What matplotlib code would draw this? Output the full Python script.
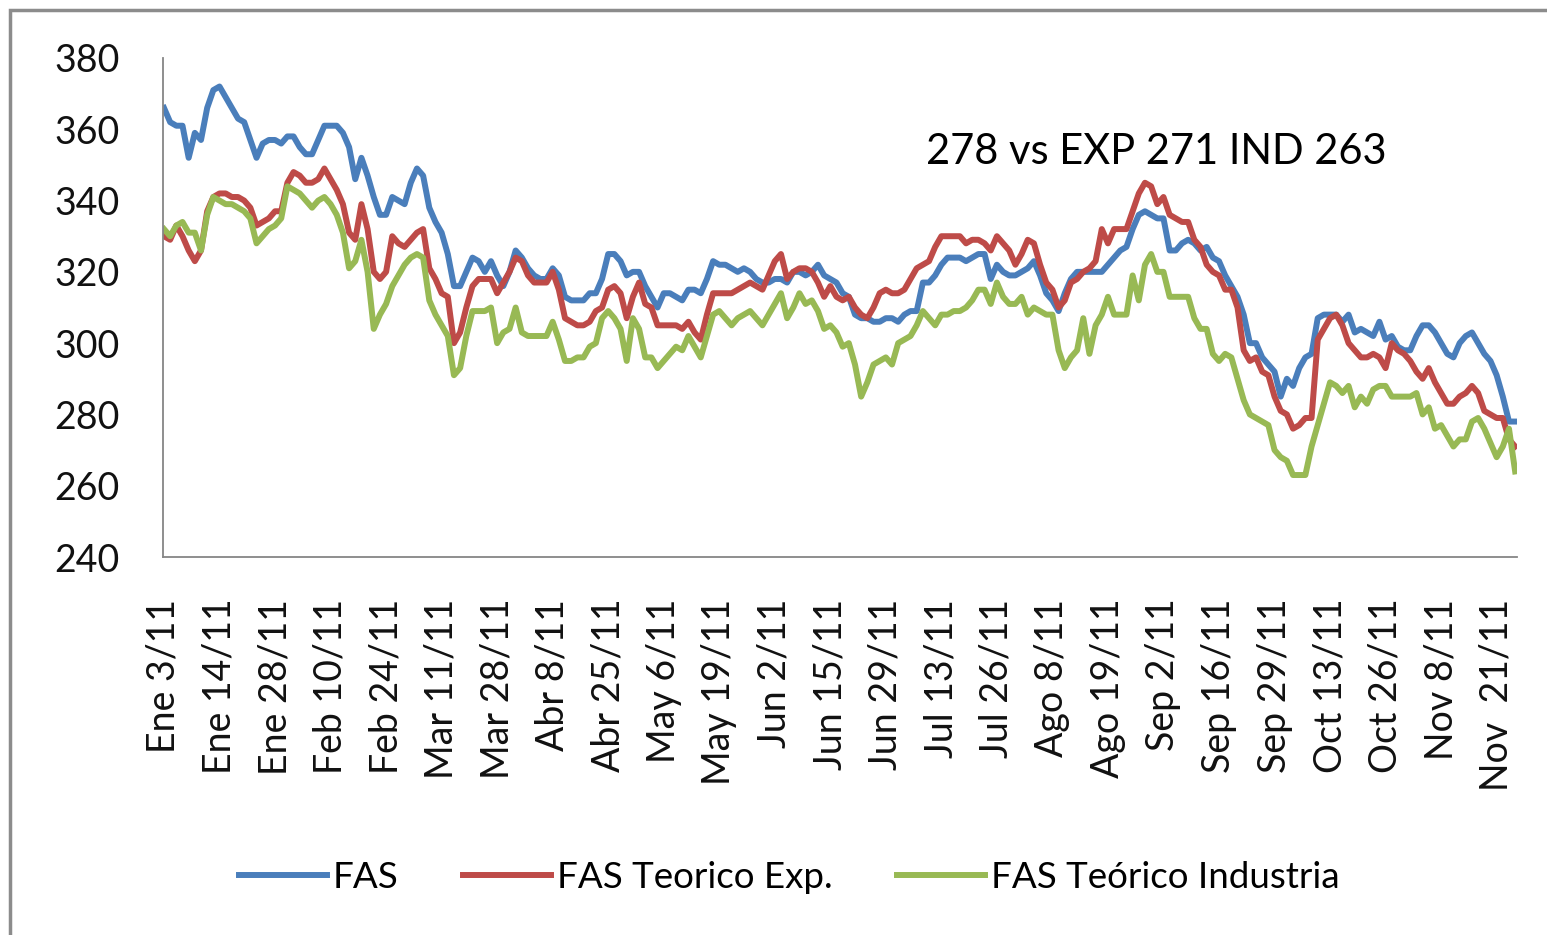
import matplotlib
matplotlib.use("Agg")
import matplotlib.pyplot as plt
from matplotlib.patches import Rectangle

plt.rcParams["font.family"] = ["Lato", "DejaVu Sans"]

# etiquetas del eje x (una cada 9 ruedas)
tick_labels = ["Ene 3/11", "Ene 14/11", "Ene 28/11", "Feb 10/11", "Feb 24/11",
               "Mar 11/11", "Mar 28/11", "Abr 8/11", "Abr 25/11", "May 6/11",
               "May 19/11", "Jun 2/11", "Jun 15/11", "Jun 29/11", "Jul 13/11",
               "Jul 26/11", "Ago 8/11", "Ago 19/11", "Sep 2/11", "Sep 16/11",
               "Sep 29/11", "Oct 13/11", "Oct 26/11", "Nov 8/11", "Nov  21/11"]
tick_step = 9

fas = [366, 362, 361, 361, 352, 359, 357, 366, 371, 372,
       369, 366, 363, 362, 357, 352, 356, 357, 357, 356,
       358, 358, 355, 353, 353, 357, 361, 361, 361, 359,
       355, 346, 352, 347, 341, 336, 336, 341, 340, 339,
       345, 349, 347, 338, 334, 331, 325, 316, 316, 320,
       324, 323, 320, 323, 319, 316, 320, 326, 324, 321,
       319, 318, 318, 321, 319, 313, 312, 312, 312, 314,
       314, 318, 325, 325, 323, 319, 320, 320, 316, 313,
       310, 314, 314, 313, 312, 315, 315, 314, 318, 323,
       322, 322, 321, 320, 321, 320, 318, 317, 317, 318,
       318, 317, 320, 320, 319, 320, 322, 319, 318, 317,
       314, 313, 308, 307, 307, 306, 306, 307, 307, 306,
       308, 309, 309, 317, 317, 319, 322, 324, 324, 324,
       323, 324, 325, 325, 318, 322, 320, 319, 319, 320,
       321, 323, 319, 314, 312, 309, 314, 318, 320, 320,
       320, 320, 320, 322, 324, 326, 327, 332, 336, 337,
       336, 335, 335, 326, 326, 328, 329, 328, 326, 327,
       324, 323, 319, 316, 313, 308, 300, 300, 296, 294,
       292, 285, 290, 288, 293, 296, 297, 307, 308, 308,
       308, 306, 308, 303, 304, 303, 302, 306, 301, 302,
       299, 298, 298, 302, 305, 305, 303, 300, 297, 296,
       300, 302, 303, 300, 297, 295, 291, 285, 278, 278]

fas_exp = [330, 329, 333, 330, 326, 323, 326, 337, 341, 342,
           342, 341, 341, 340, 338, 333, 334, 335, 337, 337,
           345, 348, 347, 345, 345, 346, 349, 346, 343, 339,
           331, 329, 339, 332, 320, 318, 320, 330, 328, 327,
           329, 331, 332, 321, 318, 314, 313, 300, 303, 310,
           316, 318, 318, 318, 314, 317, 320, 324, 323, 319,
           317, 317, 317, 320, 315, 307, 306, 305, 305, 306,
           309, 310, 315, 316, 314, 307, 313, 317, 311, 310,
           305, 305, 305, 305, 304, 306, 303, 301, 308, 314,
           314, 314, 314, 315, 316, 317, 316, 315, 319, 323,
           325, 318, 320, 321, 321, 320, 317, 313, 316, 313,
           312, 313, 310, 308, 307, 310, 314, 315, 314, 314,
           315, 318, 321, 322, 323, 327, 330, 330, 330, 330,
           328, 329, 329, 328, 326, 330, 328, 326, 322, 325,
           329, 328, 322, 317, 315, 310, 312, 317, 318, 320,
           321, 323, 332, 328, 332, 332, 332, 337, 342, 345,
           344, 339, 341, 336, 335, 334, 334, 329, 327, 322,
           320, 319, 315, 315, 310, 298, 295, 296, 292, 291,
           285, 281, 280, 276, 277, 279, 279, 301, 304, 307,
           308, 305, 300, 298, 296, 296, 297, 296, 293, 300,
           298, 297, 295, 292, 290, 293, 289, 286, 283, 283,
           285, 286, 288, 286, 281, 280, 279, 279, 273, 271]

fas_ind = [332, 330, 333, 334, 331, 331, 326, 336, 341, 340,
           339, 339, 338, 337, 335, 328, 330, 332, 333, 335,
           344, 343, 342, 340, 338, 340, 341, 339, 336, 331,
           321, 323, 329, 320, 304, 308, 311, 316, 319, 322,
           324, 325, 324, 312, 308, 305, 302, 291, 293, 302,
           309, 309, 309, 310, 300, 303, 304, 310, 303, 302,
           302, 302, 302, 306, 301, 295, 295, 296, 296, 299,
           300, 307, 309, 307, 304, 295, 307, 304, 296, 296,
           293, 295, 297, 299, 298, 302, 299, 296, 302, 308,
           309, 307, 305, 307, 308, 309, 307, 305, 308, 311,
           314, 307, 310, 314, 311, 312, 309, 304, 305, 303,
           299, 300, 294, 285, 289, 294, 295, 296, 294, 300,
           301, 302, 305, 309, 307, 305, 308, 308, 309, 309,
           310, 312, 315, 315, 311, 317, 313, 311, 311, 313,
           308, 310, 309, 308, 308, 298, 293, 296, 298, 307,
           297, 305, 308, 313, 308, 308, 308, 319, 312, 322,
           325, 320, 320, 313, 313, 313, 313, 307, 304, 304,
           297, 295, 297, 296, 290, 284, 280, 279, 278, 277,
           270, 268, 267, 263, 263, 263, 271, 277, 283, 289,
           288, 286, 288, 282, 285, 283, 287, 288, 288, 285,
           285, 285, 285, 286, 280, 282, 276, 277, 274, 271,
           273, 273, 278, 279, 276, 272, 268, 271, 276, 264]

note = "278 vs EXP 271 IND 263"

fig = plt.figure(figsize=(15.47, 9.35), dpi=100)
ax = fig.add_axes([163 / 1547, 1 - 557 / 935, (1517 - 163) / 1547, (557 - 58) / 935])

x = list(range(len(fas)))
ax.plot(x, fas, color="#4A7EBB", lw=4.3, label="FAS", solid_joinstyle="round")
ax.plot(x, fas_exp, color="#BE4B48", lw=4.3, label="FAS Teorico Exp.", solid_joinstyle="round")
ax.plot(x, fas_ind, color="#98B954", lw=4.3, label="FAS Teórico Industria", solid_joinstyle="round")

ax.set_ylim(240, 380)
ax.set_yticks(range(240, 381, 20))
ax.set_xlim(-0.16, len(fas) - 1 + 0.3)
ax.set_xticks(range(0, len(fas), tick_step))
ax.set_xticklabels(tick_labels, rotation=90, ha="center", va="top")

ax.tick_params(axis="both", length=0, labelsize=27, colors="#111111")
ax.tick_params(axis="y", pad=31)
ax.tick_params(axis="x", pad=30)
for s in ["top", "right"]:
    ax.spines[s].set_visible(False)
for s in ["left", "bottom"]:
    ax.spines[s].set_color("#868686")
    ax.spines[s].set_linewidth(1.3)

ax.text(160.8, 353.6, note, ha="center", va="center", fontsize=30, color="black")

fig.legend(loc="center", bbox_to_anchor=(0.510, 0.062), ncol=3, frameon=False,
           fontsize=26.5, handlelength=2.4, handletextpad=0.15, columnspacing=1.75)

# marco gris del gráfico
fig.patches.append(Rectangle((10 / 1547, -0.1), 1.2, 1.1 - 10 / 935, transform=fig.transFigure,
                             fill=False, edgecolor="#8C8C8C", linewidth=2.5))

fig.savefig("out.png", dpi=100)
